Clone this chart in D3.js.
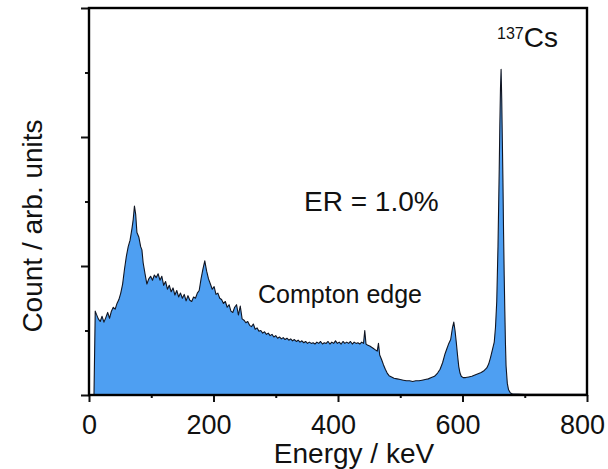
<!DOCTYPE html>
<html>
<head>
<meta charset="utf-8">
<script src="https://cdn.jsdelivr.net/npm/d3@7/dist/d3.min.js"></script>
<style>
  html, body { margin: 0; padding: 0; background: #fff; }
  svg text { font-family: "Liberation Sans", Arial, Helvetica, sans-serif; fill: #111; }
</style>
</head>
<body>
<svg id="chart" width="608" height="469"></svg>
<script>
// 137Cs gamma spectrum: channel energy (keV) and counts (arb. units)
const energyKeV = [
  5, 8, 10, 12, 15, 18, 21, 24, 27, 30, 33, 36, 39, 42, 45, 48, 51, 54, 57, 60,
  63, 66, 69, 71, 73, 75, 77, 80, 83, 85, 87, 90, 93, 96, 99, 102, 105, 108, 111, 114,
  117, 120, 123, 126, 129, 132, 135, 138, 141, 144, 147, 150, 153, 156, 159, 162, 165, 168, 171, 174,
  177, 180, 183, 186, 189, 192, 195, 198, 201, 204, 207, 210, 213, 216, 219, 222, 225, 228, 231, 234,
  237, 240, 243, 246, 249, 252, 255, 258, 261, 264, 267, 270, 273, 276, 279, 282, 285, 288, 291, 294,
  297, 300, 303, 306, 309, 312, 315, 318, 321, 324, 327, 330, 333, 336, 339, 342, 345, 348, 351, 354,
  357, 360, 363, 366, 369, 372, 375, 378, 381, 384, 387, 390, 393, 396, 399, 402, 405, 408, 411, 414,
  417, 420, 423, 426, 429, 432, 435, 438, 441, 443, 445, 448, 451, 454, 457, 460, 463, 465, 467, 470,
  473, 476, 479, 482, 486, 490, 495, 500, 505, 510, 515, 520, 525, 530, 535, 540, 545, 550, 555, 560,
  564, 568, 572, 575, 578, 581, 584, 586, 588, 590, 592, 594, 596, 598, 601, 605, 610, 615, 620, 625,
  630, 635, 639, 642, 645, 648, 651, 653, 655, 657, 659, 660, 661, 662, 663, 664, 665, 666, 667, 668,
  669, 670, 672, 674, 677, 680, 690, 700, 750, 800
];
const counts = [
  0.00, 0.00, 1.30, 1.25, 1.18, 1.14, 1.22, 1.13, 1.20, 1.28, 1.19, 1.30, 1.36, 1.33, 1.42, 1.48, 1.58, 1.72, 1.95, 2.15,
  2.30, 2.40, 2.58, 2.72, 2.93, 2.80, 2.52, 2.45, 2.30, 2.25, 2.05, 1.88, 1.72, 1.80, 1.84, 1.78, 1.86, 1.82, 1.88, 1.78,
  1.84, 1.70, 1.76, 1.64, 1.70, 1.60, 1.66, 1.55, 1.62, 1.52, 1.58, 1.50, 1.56, 1.46, 1.54, 1.47, 1.45, 1.52, 1.50, 1.58,
  1.62, 1.80, 1.95, 2.08, 1.92, 1.80, 1.72, 1.64, 1.68, 1.56, 1.58, 1.50, 1.48, 1.42, 1.45, 1.36, 1.40, 1.30, 1.28, 1.36,
  1.40, 1.24, 1.38, 1.18, 1.16, 1.12, 1.14, 1.08, 1.06, 1.10, 1.02, 1.04, 0.99, 1.00, 0.96, 0.98, 0.94, 0.96, 0.92, 0.94,
  0.90, 0.92, 0.88, 0.90, 0.87, 0.89, 0.86, 0.88, 0.85, 0.87, 0.84, 0.86, 0.83, 0.85, 0.82, 0.84, 0.81, 0.83, 0.80, 0.82,
  0.80, 0.81, 0.79, 0.82, 0.80, 0.83, 0.79, 0.81, 0.80, 0.83, 0.79, 0.82, 0.80, 0.84, 0.80, 0.82, 0.79, 0.83, 0.80, 0.82,
  0.80, 0.83, 0.79, 0.82, 0.80, 0.81, 0.79, 0.82, 0.80, 1.00, 0.79, 0.77, 0.76, 0.74, 0.72, 0.70, 0.68, 0.80, 0.62, 0.55,
  0.47, 0.40, 0.34, 0.30, 0.28, 0.26, 0.25, 0.24, 0.23, 0.22, 0.22, 0.21, 0.22, 0.22, 0.23, 0.24, 0.25, 0.27, 0.29, 0.34,
  0.40, 0.50, 0.64, 0.72, 0.80, 0.86, 1.05, 1.13, 1.00, 0.82, 0.62, 0.44, 0.34, 0.29, 0.27, 0.27, 0.28, 0.29, 0.31, 0.33,
  0.35, 0.38, 0.42, 0.48, 0.58, 0.70, 0.82, 1.05, 1.45, 2.30, 3.50, 4.20, 4.75, 5.05, 4.60, 3.95, 3.30, 2.50, 1.85, 1.30,
  0.80, 0.45, 0.18, 0.08, 0.03, 0.02, 0.015, 0.01, 0.01, 0.01
];

const xTicks = [0, 200, 400, 600, 800];
const xMinorTicks = [100, 300, 500, 700];
const yMajorTicks = [0, 2, 4, 6];
const yMinorTicks = [1, 3, 5];

const spectrum = energyKeV.map((e, i) => ({ e, c: counts[i] }));

const svg = d3.select("#chart");
const plotLeft = 89, plotRight = 587, plotTop = 8, plotBottom = 395;

const x = d3.scaleLinear().domain([0, 800]).range([plotLeft, plotRight]);
const y = d3.scaleLinear().domain([0, 6]).range([plotBottom, plotTop]);

// filled spectrum
const area = d3.area()
  .x(d => x(d.e))
  .y0(y(0))
  .y1(d => y(d.c));
const line = d3.line()
  .x(d => x(d.e))
  .y(d => y(d.c));

svg.append("path")
  .datum(spectrum)
  .attr("d", area)
  .attr("fill", "#4e9ff2");
svg.append("path")
  .datum(spectrum)
  .attr("d", line)
  .attr("fill", "none")
  .attr("stroke", "#101522")
  .attr("stroke-width", 1.1)
  .attr("stroke-linejoin", "round");

// x axis with major / minor ticks
const xAxis = d3.axisBottom(x).tickValues(xTicks).tickSize(7).tickPadding(13).tickFormat(d3.format("d"));
const gx = svg.append("g").attr("transform", `translate(0,${plotBottom})`).call(xAxis);
gx.select(".domain").remove();
gx.selectAll(".tick line").attr("stroke", "#111").attr("stroke-width", 2);
gx.selectAll(".tick text")
  .attr("font-size", 27)
  .attr("fill", "#111")
  .attr("dx", d => d === 0 ? 0 : -5)
  .style("font-family", "'Liberation Sans', Arial, sans-serif");

const gxm = svg.append("g").attr("transform", `translate(0,${plotBottom})`)
  .call(d3.axisBottom(x).tickValues(xMinorTicks).tickSize(3).tickFormat(""));
gxm.select(".domain").remove();
gxm.selectAll(".tick line").attr("stroke", "#111").attr("stroke-width", 2);

// y axis: ticks only, no labels
const gy = svg.append("g").attr("transform", `translate(${plotLeft},0)`)
  .call(d3.axisLeft(y).tickValues(yMajorTicks).tickSize(8).tickFormat(""));
gy.select(".domain").remove();
gy.selectAll(".tick line").attr("stroke", "#111").attr("stroke-width", 2);
const gym = svg.append("g").attr("transform", `translate(${plotLeft},0)`)
  .call(d3.axisLeft(y).tickValues(yMinorTicks).tickSize(4).tickFormat(""));
gym.select(".domain").remove();
gym.selectAll(".tick line").attr("stroke", "#111").attr("stroke-width", 2);

// axis titles
svg.append("text")
  .attr("x", 354).attr("y", 463)
  .attr("text-anchor", "middle")
  .attr("font-size", 28)
  .text("Energy / keV");
svg.append("text")
  .attr("transform", "translate(42,226) rotate(-90)")
  .attr("text-anchor", "middle")
  .attr("font-size", 28)
  .text("Count / arb. units");

// annotations
svg.append("text")
  .attr("x", 304).attr("y", 211)
  .attr("font-size", 28)
  .text("ER = 1.0%");
svg.append("text")
  .attr("x", 258).attr("y", 303)
  .attr("font-size", 25)
  .text("Compton edge");
const iso = svg.append("text").attr("x", 497).attr("y", 47);
iso.append("tspan").attr("font-size", 16).attr("dy", -8).text("137");
iso.append("tspan").attr("font-size", 28).attr("dy", 8).text("Cs");

// plot frame, drawn last so it sits on top of everything
svg.append("rect")
  .attr("x", x(0)).attr("y", y(6))
  .attr("width", x(800) - x(0)).attr("height", y(0) - y(6))
  .style("fill", "none")
  .style("stroke", "black")
  .style("stroke-width", "2.4px");
</script>
</body>
</html>
